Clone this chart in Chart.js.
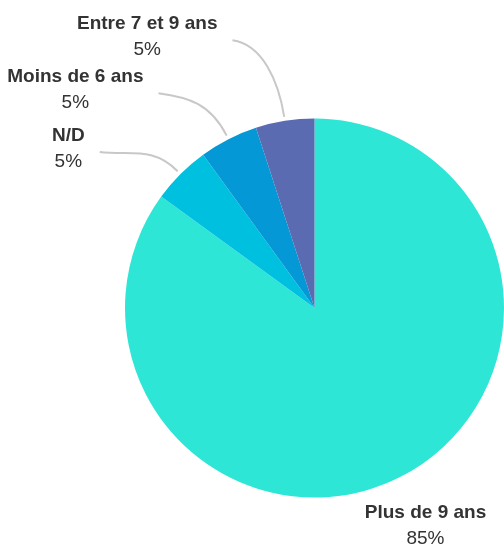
<!DOCTYPE html>
<html lang="fr">
<head>
    <meta charset="UTF-8">
    <title>Répartition par âge</title>
    <script src="https://cdn.jsdelivr.net/npm/chart.js"></script>
    <style>
        html, body { margin: 0; padding: 0; background: #fff; }
        .container { width: 504px; height: 547px; }
    </style>
</head>
<body>
    <div class="container">
        <canvas id="ageChart" width="504" height="547"></canvas>
    </div>

    <script>
        // Données
        const categories = ['Plus de 9 ans', 'N/D', 'Moins de 6 ans', 'Entre 7 et 9 ans'];
        const values = [85, 5, 5, 5];
        const colors = ['#2EE6D6', '#00C0E0', '#0498D6', '#5B6BB1'];

        const BOLD = 'bold 19px "Liberation Sans", Arial, sans-serif';
        const NORMAL = '19px "Liberation Sans", Arial, sans-serif';

        // Étiquettes avec lignes de rappel
        const labelPlugin = {
            id: 'outerLabels',
            afterDatasetsDraw(chart) {
                const ctx = chart.ctx;
                const meta = chart.getDatasetMeta(0);
                const total = values.reduce((a, b) => a + b, 0);
                const items = [];
                meta.data.forEach((arc, i) => {
                    const p = arc.getProps(['x', 'y', 'startAngle', 'endAngle', 'outerRadius'], true);
                    const mid = (p.startAngle + p.endAngle) / 2;
                    const r = p.outerRadius;
                    const a2 = mid - 9 * Math.PI / 180;
                    items.push({
                        i, p, mid, r,
                        big: values[i] / total > 0.5,
                        pct: Math.round(values[i] / total * 100) + '%',
                        ex: p.x + Math.cos(a2) * (r + 76),
                        ey: p.y + Math.sin(a2) * (r + 76)
                    });
                });

                // éviter les chevauchements : espacement vertical minimum
                const small = items.filter(it => !it.big).sort((a, b) => b.ey - a.ey);
                for (let k = 1; k < small.length; k++) {
                    if (small[k - 1].ey - small[k].ey < 53) small[k].ey = small[k - 1].ey - 53;
                }

                ctx.save();
                items.forEach(it => {
                    const p = it.p;
                    let cx, cy;
                    if (it.big) {
                        // grande part : étiquette sous la tarte, sans ligne
                        cx = p.x + Math.cos(it.mid) * (it.r + 55);
                        cy = p.y + Math.sin(it.mid) * (it.r + 55);
                    } else {
                        const sx = p.x + Math.cos(it.mid) * (it.r + 4);
                        const sy = p.y + Math.sin(it.mid) * (it.r + 4);
                        const c1x = p.x + Math.cos(it.mid) * (it.r + 40);
                        const c1y = p.y + Math.sin(it.mid) * (it.r + 40);
                        ctx.beginPath();
                        ctx.moveTo(sx, sy);
                        ctx.bezierCurveTo(c1x, c1y, it.ex + 30, it.ey + 4, it.ex, it.ey);
                        ctx.strokeStyle = '#c8c8c8';
                        ctx.lineWidth = 2;
                        ctx.stroke();
                        ctx.font = BOLD;
                        const w = Math.max(ctx.measureText(categories[it.i]).width, 30);
                        cx = it.ex - 15 - w / 2;
                        cy = it.ey - 3;
                    }
                    ctx.fillStyle = '#333';
                    ctx.textAlign = 'center';
                    ctx.textBaseline = 'middle';
                    ctx.font = BOLD;
                    ctx.fillText(categories[it.i], cx, cy - 13);
                    ctx.font = NORMAL;
                    ctx.fillText(it.pct, cx, cy + 13);
                });
                ctx.restore();
            }
        };

        new Chart(document.getElementById('ageChart'), {
            type: 'pie',
            data: {
                labels: categories,
                datasets: [{
                    data: values,
                    backgroundColor: colors,
                    borderWidth: 0
                }]
            },
            options: {
                responsive: false,
                animation: false,
                layout: { padding: { left: 125, right: 0, top: 118, bottom: 49 } },
                plugins: {
                    legend: { display: false },
                    tooltip: { enabled: false }
                }
            },
            plugins: [labelPlugin]
        });
    </script>
</body>
</html>
